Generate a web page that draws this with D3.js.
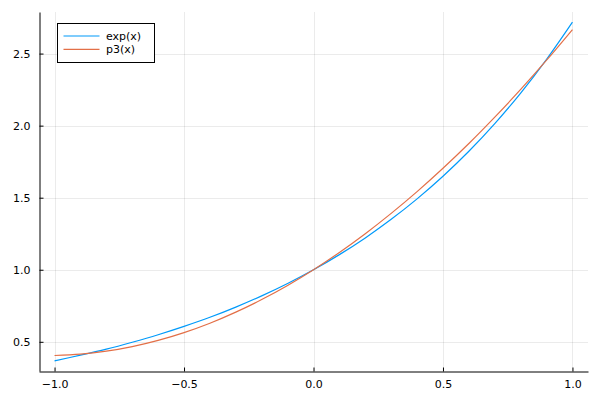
<!DOCTYPE html>
<html>
<head>
<meta charset="utf-8">
<script src="https://cdn.jsdelivr.net/npm/d3@7"></script>
<style>
  body { margin: 0; background: #fff; }
  svg text { font-family: "DejaVu Sans", sans-serif; font-size: 11px; fill: #000; }
</style>
</head>
<body>
<div id="chart"></div>
<script>
// sample points
var xs = [-1.0, -0.9, -0.8, -0.7, -0.6, -0.5, -0.4, -0.3, -0.2, -0.1, 0.0,
           0.1, 0.2, 0.3, 0.4, 0.5, 0.6, 0.7, 0.8, 0.9, 1.0];
var expVals = [0.368, 0.407, 0.449, 0.497, 0.549, 0.607, 0.670, 0.741, 0.819, 0.905, 1.000,
               1.105, 1.221, 1.350, 1.492, 1.649, 1.822, 2.014, 2.226, 2.460, 2.718];
var p3Vals = [0.405, 0.414, 0.435, 0.467, 0.510, 0.564, 0.629, 0.706, 0.793, 0.891, 1.000,
              1.120, 1.250, 1.391, 1.542, 1.704, 1.876, 2.059, 2.251, 2.454, 2.667];
var seriesNames = ["exp(x)", "p3(x)"];
var xTicks = [-1.0, -0.5, 0.0, 0.5, 1.0];
var yTicks = [0.5, 1.0, 1.5, 2.0, 2.5];

var colours = ["#009afa", "#e36f47"];
var W = 600, H = 400;
var margin = {top: 12, right: 12, bottom: 29, left: 39};

var svg = d3.select("#chart").append("svg")
    .attr("width", W)
    .attr("height", H);

var x = d3.scaleLinear()
    .domain([-1.06, 1.06])
    .range([margin.left, W - margin.right]);
var y = d3.scaleLinear()
    .domain([0.2974, 2.7885])
    .range([H - margin.bottom, margin.top]);

// grid
svg.append("g").selectAll("line.gx")
  .data(xTicks).enter().append("line")
    .attr("x1", function(d) { return Math.round(x(d)) + 0.5; })
    .attr("x2", function(d) { return Math.round(x(d)) + 0.5; })
    .attr("y1", margin.top).attr("y2", H - margin.bottom)
    .attr("stroke", "#000").attr("stroke-opacity", 0.08);
svg.append("g").selectAll("line.gy")
  .data(yTicks).enter().append("line")
    .attr("y1", function(d) { return Math.round(y(d)) + 0.5; })
    .attr("y2", function(d) { return Math.round(y(d)) + 0.5; })
    .attr("x1", margin.left).attr("x2", W - margin.right)
    .attr("stroke", "#000").attr("stroke-opacity", 0.08);

// axes (ticks point inward)
var fmt = d3.format(".1f");
var xAxis = svg.append("g")
    .attr("transform", "translate(0," + (H - margin.bottom + 0.5) + ")")
    .call(d3.axisTop(x).tickValues(xTicks).tickSizeInner(4).tickSizeOuter(0).tickFormat(fmt));
xAxis.selectAll("text").attr("y", 16).attr("dy", "0").style("text-anchor", "middle");
var yAxis = svg.append("g")
    .attr("transform", "translate(" + (margin.left + 0.5) + ",0)")
    .call(d3.axisRight(y).tickValues(yTicks).tickSizeInner(4).tickSizeOuter(0).tickFormat(fmt));
yAxis.selectAll("text").attr("x", -9).attr("dy", "0.35em").style("text-anchor", "end");
svg.selectAll(".domain").attr("stroke", "#000");
svg.selectAll(".tick line").attr("stroke", "#000");

// lines
var allSeries = [expVals, p3Vals];
var line = d3.line()
    .x(function(d, i) { return x(xs[i]); })
    .y(function(d) { return y(d); })
    .curve(d3.curveCatmullRom);
allSeries.forEach(function(s, k) {
  svg.append("path")
    .datum(s)
    .attr("fill", "none")
    .attr("stroke", colours[k])
    .attr("stroke-width", 1.2)
    .attr("d", line);
});

// legend
var lg = svg.append("g").attr("transform", "translate(57.5,23.5)");
lg.append("rect")
    .attr("width", 97).attr("height", 39)
    .attr("fill", "#fff").attr("stroke", "#000");
seriesNames.forEach(function(name, k) {
  var yy = 12.5 + k * 13.3;
  lg.append("line")
    .attr("x1", 6).attr("x2", 42).attr("y1", yy).attr("y2", yy)
    .attr("stroke", colours[k]).attr("stroke-width", 1.2);
  lg.append("text")
    .attr("x", 48.5).attr("y", yy).attr("dy", "0.35em")
    .text(name);
});
</script>
</body>
</html>
